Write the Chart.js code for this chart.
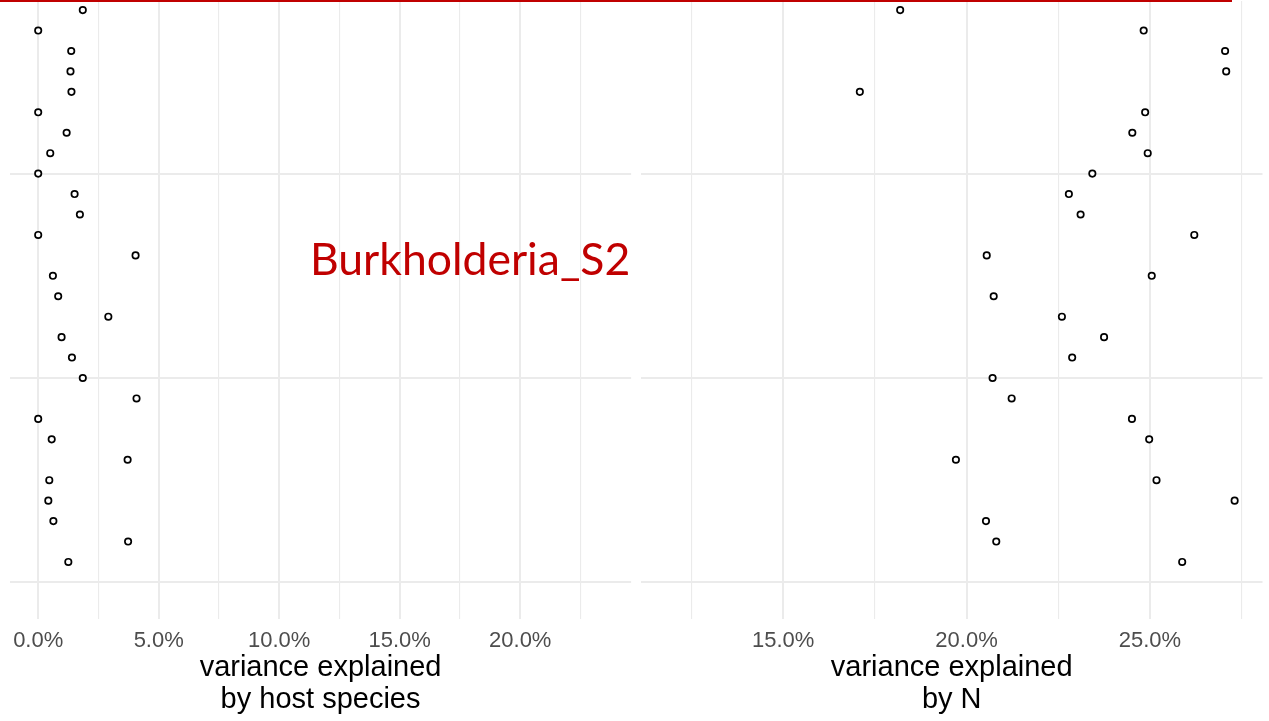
<!DOCTYPE html>
<html>
<head>
<meta charset="utf-8">
<script src="https://cdn.jsdelivr.net/npm/chart.js@4/dist/chart.umd.min.js"></script>
<style>
  html, body { margin: 0; padding: 0; background: #fff; }
  #wrap { position: relative; width: 1269px; height: 721px; overflow: hidden; }
  #leftBox { position: absolute; left: 0; top: -4px; width: 636px; height: 725px; }
  #rightBox { position: absolute; left: 636px; top: -4px; width: 633px; height: 725px; }
  #topLine { position: absolute; left: 0; top: 0; width: 1232px; height: 2px; background: #c00000; }
  #label {
    position: absolute; left: 310px; top: 236px;
    font-family: Lato, "Open Sans", sans-serif; font-size: 44.5px; color: #c00000;
    white-space: nowrap; line-height: 1;
  }
</style>
</head>
<body>
<div id="wrap">
  <div id="leftBox"><canvas id="chart_host"></canvas></div>
  <div id="rightBox"><canvas id="chart_n"></canvas></div>
  <div id="topLine"></div>
  <div id="label">Burkholderia_S2</div>
</div>
<script>
// row positions, top (28) to bottom (1)
const rows = [28, 27, 26, 25, 24, 23, 22, 21, 20, 19, 18, 17, 16, 15, 14, 13, 12, 11, 10, 9, 8, 7, 6, 5, 4, 3, 2, 1];

// variance explained by host species (%)
const hostSpecies = [1.85, 0, 1.37, 1.34, 1.38, 0, 1.18, 0.50, 0, 1.51, 1.73, 0, 4.04, 0.61,
                     0.83, 2.91, 0.97, 1.40, 1.85, 4.08, 0, 0.56, 3.71, 0.46, 0.42, 0.63, 3.73, 1.25];

// variance explained by N (%)
const byN = [18.19, 24.83, 27.05, 27.08, 17.09, 24.87, 24.52, 24.94, 23.43, 22.79, 23.11, 26.21, 20.55, 25.05,
             20.74, 22.60, 23.75, 22.88, 20.71, 21.23, 24.51, 24.98, 19.71, 25.18, 27.31, 20.53, 20.81, 25.88];

// x grid / tick positions, labelled ones are the majors
const hostTicks = [0, 2.5, 5, 7.5, 10, 12.5, 15, 17.5, 20, 22.5];
const hostLabels = [0, 5, 10, 15, 20];
const nTicks = [12.5, 15, 17.5, 20, 22.5, 25, 27.5];
const nLabels = [15, 20, 25];
const yTicks = [0, 10, 20];

const FONT = '"Liberation Sans", Arial, Helvetica, sans-serif';
const GRID = '#ebebeb';

function isLabelled(list, v) {
    return list.some(l => Math.abs(l - v) < 1e-6);
}

function makeChart(id, values, xMin, xMax, ticks, labels, title, pad) {
    const pts = values.map((v, i) => ({x: v, y: rows[i]}));
    return new Chart(id, {
        type: 'scatter',
        data: {
            datasets: [{
                data: pts,
                pointRadius: 3.2,
                pointHoverRadius: 3.2,
                pointBorderWidth: 1.7,
                pointBorderColor: '#000',
                pointBackgroundColor: '#fff',
                clip: false
            }]
        },
        options: {
            responsive: false,
            animation: false,
            events: [],
            layout: { padding: { left: pad.left, right: pad.right, top: 0, bottom: 0 } },
            plugins: { legend: { display: false }, tooltip: { enabled: false } },
            scales: {
                x: {
                    type: 'linear',
                    min: xMin,
                    max: xMax,
                    afterBuildTicks: axis => { axis.ticks = ticks.map(v => ({value: v})); },
                    afterFit: axis => { axis.height = 102; },
                    border: { display: false },
                    grid: {
                        drawTicks: false,
                        color: GRID,
                        lineWidth: ctx => isLabelled(labels, ctx.tick.value) ? 2 : 1.1
                    },
                    ticks: {
                        autoSkip: false,
                        maxRotation: 0,
                        padding: 9,
                        color: '#4d4d4d',
                        font: { family: FONT, size: 22 },
                        callback: v => isLabelled(labels, v) ? v.toFixed(1) + '%' : ''
                    },
                    title: {
                        display: true,
                        text: title,
                        color: '#000',
                        font: { family: FONT, size: 29, lineHeight: 1.1 },
                        padding: { top: 0, bottom: 5 }
                    }
                },
                y: {
                    type: 'linear',
                    min: -1.79,
                    max: 28.45,
                    afterBuildTicks: axis => { axis.ticks = yTicks.map(v => ({value: v})); },
                    afterFit: axis => { axis.width = 0; },
                    border: { display: false },
                    grid: { drawTicks: false, color: GRID, lineWidth: 2 },
                    ticks: { display: false }
                }
            }
        }
    });
}

function setSize(id, w, h) {
    const c = document.getElementById(id);
    c.width = w; c.height = h;
    c.style.width = w + 'px'; c.style.height = h + 'px';
}

setSize('chart_host', 636, 725);
setSize('chart_n', 633, 725);

makeChart('chart_host', hostSpecies, -1.17, 24.6, hostTicks, hostLabels,
          ['variance explained', 'by host species'], {left: 10, right: 4});
makeChart('chart_n', byN, 11.12, 28.07, nTicks, nLabels,
          ['variance explained', 'by N'], {left: 4.5, right: 6.5});
</script>
</body>
</html>
